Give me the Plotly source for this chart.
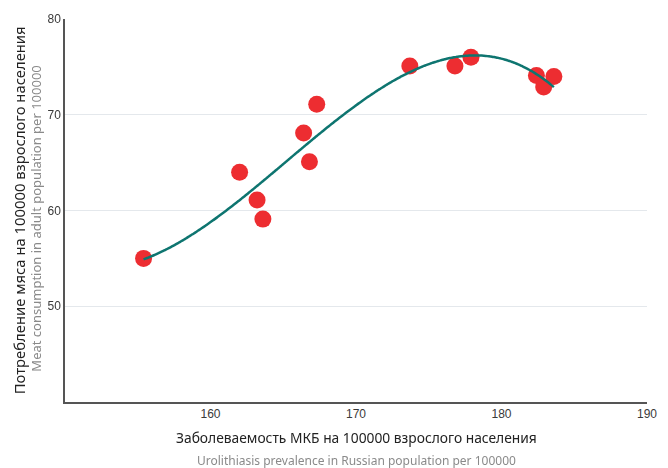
import numpy as np
import plotly.graph_objects as go

# Data
incidence = [155.4, 162.0, 163.2, 163.6, 166.4, 166.8, 167.3, 173.7, 176.8, 177.9, 182.4, 182.9, 183.6]
meat = [55.0, 64.0, 61.1, 59.1, 68.1, 65.1, 71.1, 75.1, 75.1, 76.0, 74.1, 72.9, 74.0]
x_ticks = [160, 170, 180, 190]
y_ticks = [50, 60, 70, 80]

# Cubic polynomial trend computed from the data
coef = np.polyfit(incidence, meat, 3)
xs = np.linspace(min(incidence), max(incidence), 200)
ys = np.polyval(coef, xs)

fig = go.Figure()
fig.add_trace(go.Scatter(
    x=incidence, y=meat, mode="markers",
    marker=dict(size=17, color="#ec2226", line=dict(width=0)),
    opacity=0.95, showlegend=False, hoverinfo="skip"))
fig.add_trace(go.Scatter(
    x=xs, y=ys, mode="lines",
    line=dict(color="#0e7570", width=2.5, shape="spline"),
    showlegend=False, hoverinfo="skip"))

tickfont = dict(family="Liberation Sans, Arial", size=12, color="#3a3a3a")
fig.update_xaxes(range=[150, 190], tickvals=x_ticks, showgrid=False, zeroline=False,
                 showline=True, linecolor="#555", linewidth=1.5, ticks="",
                 tickfont=tickfont)
fig.update_yaxes(range=[40, 80], tickvals=y_ticks, showgrid=True, gridcolor="#e4e8ec",
                 gridwidth=1, zeroline=False, showline=True, linecolor="#555",
                 linewidth=1.5, ticks="", tickfont=tickfont)

ann = []
ann.append(dict(text="Заболеваемость МКБ на 100000 взрослого населения", x=0.5, y=-0.0914,
                xref="paper", yref="paper", xanchor="center", yanchor="middle",
                showarrow=False, font=dict(family="Noto Sans", size=13.8, color="#222")))
ann.append(dict(text="Urolithiasis prevalence in Russian population per 100000", x=0.5, y=-0.154,
                xref="paper", yref="paper", xanchor="center", yanchor="middle",
                showarrow=False, font=dict(family="Noto Sans", size=12, color="#8a8a8a")))
ann.append(dict(text="Потребление мяса на 100000 взрослого населения", x=-0.0794, y=0.5,
                xref="paper", yref="paper", xanchor="center", yanchor="middle", textangle=-90,
                showarrow=False, font=dict(family="Noto Sans", size=14.8, color="#222")))
ann.append(dict(text="Meat consumption in adult population per 100000", x=-0.049, y=0.48,
                xref="paper", yref="paper", xanchor="center", yanchor="middle", textangle=-90,
                showarrow=False, font=dict(family="Noto Sans", size=13, color="#8a8a8a")))

fig.update_layout(width=668, height=468, margin=dict(l=65, r=11, t=19, b=66),
                  plot_bgcolor="white", paper_bgcolor="white", annotations=ann)

fig.write_html("out.html", config={"displayModeBar": False},
               post_script="document.body.style.margin='0';")
